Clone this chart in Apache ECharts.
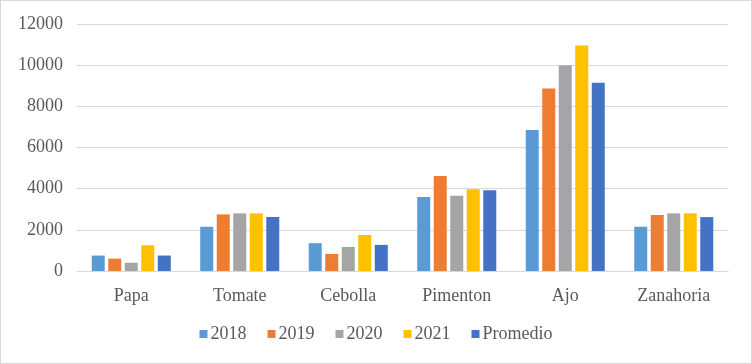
<!DOCTYPE html>
<html><head><meta charset="utf-8">
<script src="https://cdn.jsdelivr.net/npm/echarts@6/dist/echarts.min.js"></script>
<style>html,body{margin:0;padding:0;background:#fff}#c{width:752px;height:364px;box-sizing:border-box;border:1px solid #d9d9d9}</style>
</head><body><div id="c"></div>
<script>
var categories = ['Papa','Tomate','Cebolla','Pimenton','Ajo','Zanahoria'];
var seriesNames = ['2018','2019','2020','2021','Promedio'];
var v2018 = [750, 2150, 1350, 3600, 6850, 2150];
var v2019 = [600, 2750, 830, 4620, 8870, 2720];
var v2020 = [400, 2800, 1170, 3650, 10000, 2800];
var v2021 = [1250, 2800, 1750, 3970, 10950, 2800];
var vProm = [750, 2625, 1270, 3925, 9150, 2620];
var colors = ['#5B9BD5','#ED7D31','#A5A5A5','#FFC000','#4472C4'];
var allData = [v2018, v2019, v2020, v2021, vProm];
var chart = echarts.init(document.getElementById('c'));
var font = 'Liberation Serif';
chart.setOption({
  animation: false,
  color: colors,
  grid: {left: 76, right: 23, top: 23, bottom: 92},
  legend: {
    bottom: 15, itemWidth: 8, itemHeight: 8, itemGap: 21, icon: 'rect',
    textStyle: {fontFamily: font, fontSize: 18, color: '#595959', padding: [0,0,0,-2]},
    data: seriesNames
  },
  xAxis: {
    type: 'category', data: categories,
    axisLine: {lineStyle: {color: '#d9d9d9'}}, axisTick: {show: false},
    axisLabel: {fontFamily: font, fontSize: 18, color: '#595959', margin: 16}
  },
  yAxis: {
    type: 'value', min: 0, max: 12000, interval: 2000,
    axisLine: {show: false}, axisTick: {show: false},
    splitLine: {lineStyle: {color: '#d9d9d9'}},
    axisLabel: {fontFamily: font, fontSize: 18, color: '#595959', margin: 14, formatter: function(v){return String(v);}}
  },
  series: seriesNames.map(function(n, i){
    return {name: n, type: 'bar', data: allData[i], barWidth: 13, barGap: '27%', barCategoryGap: '27%'};
  })
});
</script></body></html>
